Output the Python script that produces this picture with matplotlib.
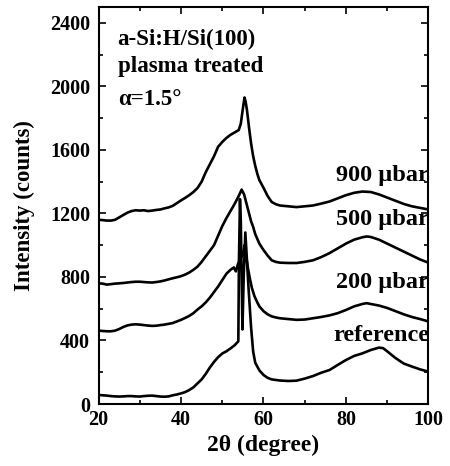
import matplotlib
matplotlib.use("Agg")
import matplotlib.pyplot as plt
from matplotlib.ticker import MultipleLocator

plt.rcParams['font.family'] = ['Liberation Serif', 'DejaVu Serif']
plt.rcParams['font.weight'] = 'bold'

# 900 ubar
x_900 = [20, 21, 22, 23, 24, 25, 26, 27, 28, 29, 30, 31, 32, 33, 34, 35, 36, 37, 38, 39,
         40, 41, 42, 43, 44, 45, 46, 47, 48, 49, 50, 51, 52, 53, 54, 54.5, 55, 55.4, 55.7,
         56, 56.5, 57, 57.5, 58, 58.5, 59, 60, 61, 62, 63, 64, 66, 68, 70, 72, 74, 76, 78,
         80, 82, 84, 86, 88, 90, 92, 94, 96, 98, 100]
y_900 = [1160, 1158, 1155, 1155, 1160, 1175, 1190, 1205, 1215, 1220, 1218, 1220, 1215, 1218,
         1222, 1225, 1232, 1238, 1248, 1265, 1282, 1298, 1315, 1335, 1360, 1400, 1460, 1510,
         1560, 1620, 1650, 1675, 1695, 1710, 1725, 1765, 1860, 1930, 1900, 1850, 1740, 1640,
         1560, 1500, 1450, 1410, 1362, 1310, 1272, 1258, 1250, 1245, 1240, 1245, 1250, 1262,
         1275, 1295, 1315, 1330, 1338, 1335, 1320, 1300, 1280, 1260, 1245, 1235, 1225]

# 500 ubar
x_500 = [20, 21, 22, 23, 24, 25, 26, 27, 28, 29, 30, 31, 32, 33, 34, 35, 36, 37, 38, 39,
         40, 41, 42, 43, 44, 45, 46, 47, 48, 49, 50, 51, 52, 53, 54, 54.7, 55.3, 56, 56.5,
         57, 57.5, 58, 59, 60, 61, 62, 63, 64, 66, 68, 70, 72, 74, 76, 78, 80, 82, 84, 85,
         86, 88, 90, 92, 94, 96, 98, 100]
y_500 = [760, 758, 752, 755, 758, 760, 762, 765, 768, 770, 770, 768, 766, 765, 768, 772, 778,
         785, 792, 798, 805, 815, 828, 845, 865, 895, 930, 965, 1000, 1060, 1120, 1170, 1215,
         1260, 1310, 1350, 1320, 1250, 1200, 1150, 1115, 1070, 1010, 970, 935, 905, 895, 890,
         888, 888, 895, 905, 925, 950, 980, 1010, 1035, 1050, 1055, 1052, 1035, 1010, 985,
         960, 935, 910, 890]

# 200 ubar
x_200 = [20, 21, 22, 23, 24, 25, 26, 27, 28, 29, 30, 31, 32, 33, 34, 35, 36, 37, 38, 39,
         40, 41, 42, 43, 44, 45, 46, 47, 48, 49, 50, 51, 52, 52.8, 53.3, 53.8, 54.5, 55.0,
         55.4, 55.7, 56.2, 56.7, 57.2, 57.8, 58.5, 59, 60, 61, 62, 63, 64, 66, 68, 70, 72,
         74, 76, 78, 80, 82, 84, 85, 86, 88, 90, 92, 94, 96, 98, 100]
y_200 = [462, 460, 458, 458, 462, 472, 485, 495, 500, 502, 500, 497, 494, 492, 493, 497, 500,
         505, 510, 520, 530, 542, 555, 572, 595, 615, 640, 670, 705, 740, 780, 820, 845, 860,
         835, 880, 920, 940, 1000, 950, 860, 790, 730, 680, 640, 615, 585, 565, 552, 545, 540,
         535, 530, 532, 540, 548, 558, 572, 592, 615, 630, 635, 630, 620, 605, 585, 565, 548,
         535, 520]

# reference
x_ref = [20, 21, 22, 23, 24, 25, 26, 27, 28, 29, 30, 31, 32, 33, 34, 35, 36, 37, 38, 39,
         40, 41, 42, 43, 44, 45, 46, 47, 48, 49, 50, 51, 52, 53, 53.9, 54.05, 54.3, 54.5,
         54.9, 55.2, 55.6, 56.0, 56.4, 57, 57.5, 58, 59, 60, 61, 62, 64, 66, 68, 70, 72, 74,
         76, 78, 80, 82, 84, 86, 88, 89, 90, 92, 94, 96, 98, 100]
y_ref = [57, 55, 53, 50, 48, 47, 48, 50, 50, 48, 47, 50, 52, 53, 50, 47, 46, 48, 55, 60, 67,
         75, 88, 105, 130, 155, 190, 230, 265, 295, 318, 332, 350, 370, 395, 900, 1290, 1150,
         470, 800, 1080, 900, 720, 480, 330, 260, 212, 183, 165, 155, 148, 145, 147, 160, 176,
         197, 214, 246, 277, 303, 319, 340, 355, 352, 332, 290, 255, 236, 218, 204]

series = [(x_900, y_900), (x_500, y_500), (x_200, y_200), (x_ref, y_ref)]
labels = ["900 \u00b5bar", "500 \u00b5bar", "200 \u00b5bar", "reference"]
label_y = [1440, 1160, 765, 430]

fig = plt.figure(figsize=(4.5, 4.66), dpi=100)
ax = fig.add_axes([0.219, 0.133, 0.733, 0.852])

for xs, ys in series:
    ax.plot(xs, ys, color="black", linewidth=1.9)

for lab, ly in zip(labels, label_y):
    ax.text(100.2, ly, lab, ha="right", va="center", fontsize=17.5, fontweight="bold")

ax.text(0.058, 0.919, "a-Si:H/Si(100)", transform=ax.transAxes, fontsize=16.5,
        fontweight="bold", va="center")
ax.text(0.058, 0.85, "plasma treated", transform=ax.transAxes, fontsize=16.5,
        fontweight="bold", va="center")
ax.text(0.058, 0.768, "\u03b1=1.5\u00b0", transform=ax.transAxes, fontsize=16.5,
        fontweight="bold", va="center")

ax.set_xlim(20, 100)
ax.set_ylim(0, 2500)
ax.xaxis.set_major_locator(MultipleLocator(20))
ax.xaxis.set_minor_locator(MultipleLocator(10))
ax.yaxis.set_major_locator(MultipleLocator(400))
ax.yaxis.set_minor_locator(MultipleLocator(200))
ax.tick_params(which="both", direction="in", top=True, right=True, labelsize=14.5, width=1.2)
ax.tick_params(which="major", length=5, pad=6)
ax.tick_params(axis="x", which="major", pad=4)
ax.tick_params(which="minor", length=3)
for lab in ax.get_xticklabels() + ax.get_yticklabels():
    lab.set_fontweight("bold")
for sp in ax.spines.values():
    sp.set_linewidth(1.5)

ax.set_xlabel("2\u03b8 (degree)", fontsize=17, fontweight="bold", labelpad=4)
ax.set_ylabel("Intensity (counts)", fontsize=16.5, fontweight="bold", labelpad=11)

fig.savefig("out.png", dpi=100)
